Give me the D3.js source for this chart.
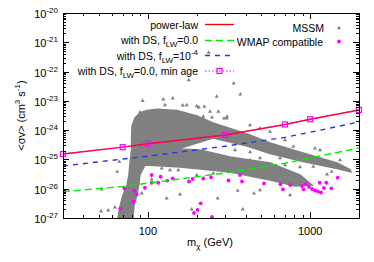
<!DOCTYPE html>
<html><head><meta charset="utf-8">
<script src="https://cdn.jsdelivr.net/npm/d3@7"></script>
<style>body{margin:0;background:#fff}svg{display:block}text{font-family:"Liberation Sans",Arial,sans-serif;fill:#000}</style>
</head><body><div id="chart"></div>
<script>
// ---- data ----
const massGrid = [30, 70, 100, 300, 700, 1000, 2000];
const powerLaw = [1.53e-25, 2.62e-25, 3.42e-25, 6.84e-25, 1.56e-24, 2.35e-24, 4.88e-24];
const minAge   = [1.53e-25, 2.62e-25, 3.42e-25, 6.84e-25, 1.56e-24, 2.35e-24, 4.88e-24];
const dsLW0    = [7.93e-27, 1.19e-26, 1.55e-26, 3.44e-26, 7.39e-26, 1.12e-25, 2.46e-25];
const dsLW4    = [5.97e-26, 1.03e-25, 1.29e-25, 2.83e-25, 5.66e-25, 8.45e-25, 1.90e-24];

// dense MSSM regions (outline of the packed scatter), [mass, sigma v]
const mssmDenseUpper = [[79.9,9.57e-26],[79.3,4.61e-25],[79.9,1.39e-24],[83.3,2.60e-24],[89.4,3.85e-24],
  [98.8,4.69e-24],[113.8,5.15e-24],[151.2,4.69e-24],[200.9,3.04e-24],[252.0,1.75e-24],[408.3,7.38e-25],
  [565.8,3.64e-25],[903.4,1.66e-25],[1463.7,7.55e-26],[1760.5,4.53e-26],[1785.4,3.72e-26],[1463.7,4.90e-26],
  [903.4,8.50e-26],[565.8,1.59e-25],[408.3,2.88e-25],[252.0,5.39e-25],[157.8,2.40e-25],[118.8,1.66e-25],[89.4,1.21e-25]];
const mssmDenseLower = [[65.5,1e-27],[66.7,1.98e-27],[70.3,6.10e-27],[74.4,1.34e-26],[76.5,2.94e-26],[77.6,7.55e-26],
  [79.3,2.10e-25],[118.8,2.40e-25],[209.6,2.10e-25],[320.8,1.21e-25],[565.8,7.55e-26],[865.8,2.94e-26],[1027,1.34e-26],
  [806.6,1.24e-26],[565.8,1.99e-26],[320.8,3.72e-26],[157.8,5.52e-26],[96.0,6.46e-26],[89.4,2.94e-26],[88.2,1.57e-26],
  [85.7,6.10e-27],[82.1,2.78e-27],[81.0,1e-27]];
// isolated MSSM models
const mssmPoints = [[92.9,1.01e-23],[124.5,1.13e-23],[142.2,1.22e-23],[127.5,7.22e-24],[163.9,7.0e-24],[173.5,7.22e-24],
  [89.4,4.07e-24],[265.6,1.39e-23],[237.1,4.48e-22],[178.5,5.15e-23],[338.0,3.98e-23],[371.3,1.67e-23],[205.8,6.03e-24],
  [222.8,6.32e-24],[241.5,4.27e-24],[248.5,2.75e-24],[271.6,4.27e-24],[307.4,2.88e-24],[294.5,2.54e-24],[339.5,8.85e-25],
  [219.6,2.88e-24],[787.3,2.72e-25],[1071.3,2.40e-25],[1045.7,5.65e-26],[1357.9,3.81e-26],[1270.3,3.10e-26],[490.9,1.12e-25],
  [699.8,6.46e-26],[51.5,1.68e-27],[57.0,1.83e-27],[62.7,2.3e-27],[51.9,9.55e-27],[64.8,3.81e-26],[66.7,8.36e-26],
  [91.6,6.97e-27],[130.6,4.71e-27],[105.6,2.10e-26],[121.7,4.98e-26],[136.9,4.36e-26],[154.0,4.36e-26],[157.8,6.44e-27],
  [269.3,4.71e-27],[357.8,8.55e-27],[384.2,1.98e-27],[450.8,6.97e-27],[186.2,1.98e-27],[200.0,2.94e-26],[253.1,3.36e-26],
  [230.5,4.98e-26],[200.0,6.68e-24],[306.1,2.54e-24],[426,1.50e-24],[490.9,1.16e-24],[565.8,8.85e-25],[699.8,4.61e-25],
  [1150,2.10e-25],[1527,9.57e-26],[320.8,8.17e-26],[426,9.57e-26],[426,1.79e-25],[344.4,2.10e-25],[651.9,1.12e-25],
  [865.8,5.52e-26],[490.9,9.04e-27],[751,6.10e-27]];
// WMAP compatible models
const wmapPoints = [[67.8,2.14e-27],[71.6,1.03e-26],[81.5,3.61e-27],[82.5,8.55e-27],[85.3,6.44e-27],[96.0,1.08e-26],
  [105.6,1.60e-26],[115.9,1.60e-26],[105.6,2.94e-26],[120.0,2.57e-26],[131.8,1.88e-26],[142.2,2.27e-26],[179.3,1.76e-26],
  [188.9,2.15e-26],[219.6,2.23e-26],[244.9,2.42e-26],[314,1.91e-26],[369.6,2.94e-26],[380.4,1.76e-26],[519.5,1.51e-26],
  [656.6,1.42e-26],[680.2,9.55e-27],[754.6,1.34e-26],[890.8,1.24e-26],[912.4,9.55e-27],[942.8,1.45e-26],[983.8,1.15e-26],
  [1027,9.78e-27],[1071.3,8.69e-27],[1117.6,8.04e-27],[1166,7.43e-27],[1144.9,1.60e-26],[1257.7,1.60e-26],[1217,1.06e-26],
  [1350.1,1.03e-26],[1478.6,2.38e-26],[211.6,3.18e-27],[202.8,1.88e-27],[192.4,1.48e-27],[248.5,1.08e-27]];
const xTickValues = [100, 1000];
const xTickLabels = ["100", "1000"];
const yTickExps = [-27, -26, -25, -24, -23, -22, -21, -20];

// ---- layout ----
const W = 374, H = 262, L = 63, R = 359, T = 13, B = 218;
const x = d3.scaleLog().domain([30, 2000]).range([L, R]);
const y = d3.scaleLog().domain([1e-27, 1e-20]).range([B, T]);
const svg = d3.select('#chart').append('svg').attr('width', W).attr('height', H);
svg.append('defs').append('clipPath').attr('id', 'clip')
  .append('rect').attr('x', L).attr('y', T).attr('width', R - L).attr('height', B - T);
const plot = svg.append('g').attr('clip-path', 'url(#clip)');

const gray = '#808080';
const poly = d3.line().x(d => x(d[0])).y(d => y(d[1])).curve(d3.curveLinearClosed);
[mssmDenseUpper, mssmDenseLower].forEach(p =>
  plot.append('path').attr('d', poly(p)).attr('fill', gray).attr('stroke', gray).attr('stroke-width', 1.5));

const tri = d3.symbol().type(d3.symbolTriangle).size(7);
plot.selectAll('.mssm').data(mssmPoints).enter().append('path')
  .attr('transform', d => `translate(${x(d[0])},${y(d[1])})`).attr('d', tri).attr('fill', gray);

const magenta = '#ff00ff';
plot.selectAll('.wmap').data(wmapPoints).enter().append('circle')
  .attr('cx', d => x(d[0])).attr('cy', d => y(d[1])).attr('r', 1.9).attr('fill', magenta);

const line = d3.line().x((d, i) => x(massGrid[i])).y(d => y(d));
plot.append('path').attr('d', line(dsLW0)).attr('fill', 'none').attr('stroke', '#00ee00').attr('stroke-width', 1.4).attr('stroke-dasharray', '7,4');
plot.append('path').attr('d', line(dsLW4)).attr('fill', 'none').attr('stroke', '#2233ee').attr('stroke-width', 1.4).attr('stroke-dasharray', '5,5');
plot.append('path').attr('d', line(powerLaw)).attr('fill', 'none').attr('stroke', '#ff0000').attr('stroke-width', 1.4);
plot.append('path').attr('d', line(minAge)).attr('fill', 'none').attr('stroke', magenta).attr('stroke-width', 1).attr('stroke-dasharray', '1.5,2');
svg.selectAll('.sq').data(minAge).enter().append('rect')
  .attr('x', (d, i) => x(massGrid[i]) - 2.5).attr('y', d => y(d) - 2.5).attr('width', 5).attr('height', 5)
  .attr('fill', 'none').attr('stroke', magenta).attr('stroke-width', 1.2);

// ---- axes ----
const ax = svg.append('g').attr('stroke', '#000').attr('stroke-width', 1);
const xMinor = [];
[10, 100, 1000].forEach(dec => { for (let k = 1; k <= 9; k++) { const v = k * dec; if (v >= 30 && v <= 2000) xMinor.push(v); } });
xMinor.forEach(v => {
  const len = (v === 100 || v === 1000) ? 6 : 3, px = Math.round(x(v)) + 0.5;
  ax.append('line').attr('x1', px).attr('x2', px).attr('y1', B).attr('y2', B - len);
  ax.append('line').attr('x1', px).attr('x2', px).attr('y1', T).attr('y2', T + len);
});
yTickExps.forEach(e => {
  for (let k = 1; k <= 9; k++) {
    const v = k * Math.pow(10, e);
    if (v > 1.0001e-20) continue;
    const len = k === 1 ? 6 : 3, py = Math.round(y(v)) + 0.5;
    ax.append('line').attr('x1', L).attr('x2', L + len).attr('y1', py).attr('y2', py);
    ax.append('line').attr('x1', R).attr('x2', R - len).attr('y1', py).attr('y2', py);
  }
});
svg.append('rect').attr('x', L + 0.5).attr('y', T + 0.5).attr('width', R - L).attr('height', B - T)
  .attr('fill', 'none').attr('stroke', '#000').attr('stroke-width', 1);

xTickValues.forEach((v, i) => svg.append('text').attr('x', x(v)).attr('y', 235).attr('text-anchor', 'middle')
  .attr('font-size', 11).text(xTickLabels[i]));
yTickExps.forEach(e => {
  const t = svg.append('text').attr('x', 58).attr('y', y(Math.pow(10, e)) + 5).attr('text-anchor', 'end').attr('font-size', 11);
  t.append('tspan').text('10');
  t.append('tspan').attr('dy', -5).attr('font-size', 8).text(String(e));
});

// axis titles
const xt = svg.append('text').attr('x', 210).attr('y', 246).attr('text-anchor', 'middle').attr('font-size', 11);
xt.append('tspan').text('m');
xt.append('tspan').attr('dy', 3).attr('font-size', 8).text('χ');
xt.append('tspan').attr('dy', -3).text(' (GeV)');
const yt = svg.append('text').attr('transform', `translate(25,${(T + B) / 2}) rotate(-90)`).attr('text-anchor', 'middle').attr('font-size', 11);
yt.append('tspan').text('<σv> (cm');
yt.append('tspan').attr('dy', -5).attr('font-size', 8).text('3');
yt.append('tspan').attr('dy', 5).text(' s');
yt.append('tspan').attr('dy', -5).attr('font-size', 8).text('-1');
yt.append('tspan').attr('dy', 5).text(')');

// ---- legend ----
const lg = svg.append('g').attr('font-size', 10.5);
function label(xp, yp, parts) {
  const t = lg.append('text').attr('x', xp).attr('y', yp).attr('text-anchor', 'end');
  parts.forEach(p => {
    const s = t.append('tspan').text(p[0]);
    if (p[1]) s.attr('dy', p[1]);
    if (p[2]) s.attr('font-size', p[2]);
  });
}
label(198, 28.5, [['power-law']]);
label(198, 44, [['with DS, f'], ['LW', 3, 8], ['=0.0', -3]]);
label(198, 59.5, [['with DS, f'], ['LW', 3, 8], ['=10', -3], ['-4', -5, 8]]);
label(198, 75, [['with DS, f'], ['LW', 3, 8], ['=0.0, min age', -3]]);
lg.append('line').attr('x1', 205).attr('x2', 234).attr('y1', 24.5).attr('y2', 24.5).attr('stroke', '#ff0000').attr('stroke-width', 1.4);
lg.append('line').attr('x1', 205).attr('x2', 234).attr('y1', 40.5).attr('y2', 40.5).attr('stroke', '#00ee00').attr('stroke-width', 1.4).attr('stroke-dasharray', '7,4');
lg.append('line').attr('x1', 205).attr('x2', 234).attr('y1', 55.5).attr('y2', 55.5).attr('stroke', '#2233ee').attr('stroke-width', 1.4).attr('stroke-dasharray', '5,5');
lg.append('line').attr('x1', 205).attr('x2', 234).attr('y1', 71).attr('y2', 71).attr('stroke', magenta).attr('stroke-width', 1).attr('stroke-dasharray', '1.5,2');
lg.append('rect').attr('x', 217).attr('y', 68.5).attr('width', 5).attr('height', 5).attr('fill', 'none').attr('stroke', magenta).attr('stroke-width', 1.2);
label(324, 32, [['MSSM']]);
label(323, 46, [['WMAP compatible']]);
lg.append('path').attr('transform', 'translate(339,28)').attr('d', tri).attr('fill', gray);
lg.append('circle').attr('cx', 339).attr('cy', 41.5).attr('r', 1.9).attr('fill', magenta);
</script></body></html>
